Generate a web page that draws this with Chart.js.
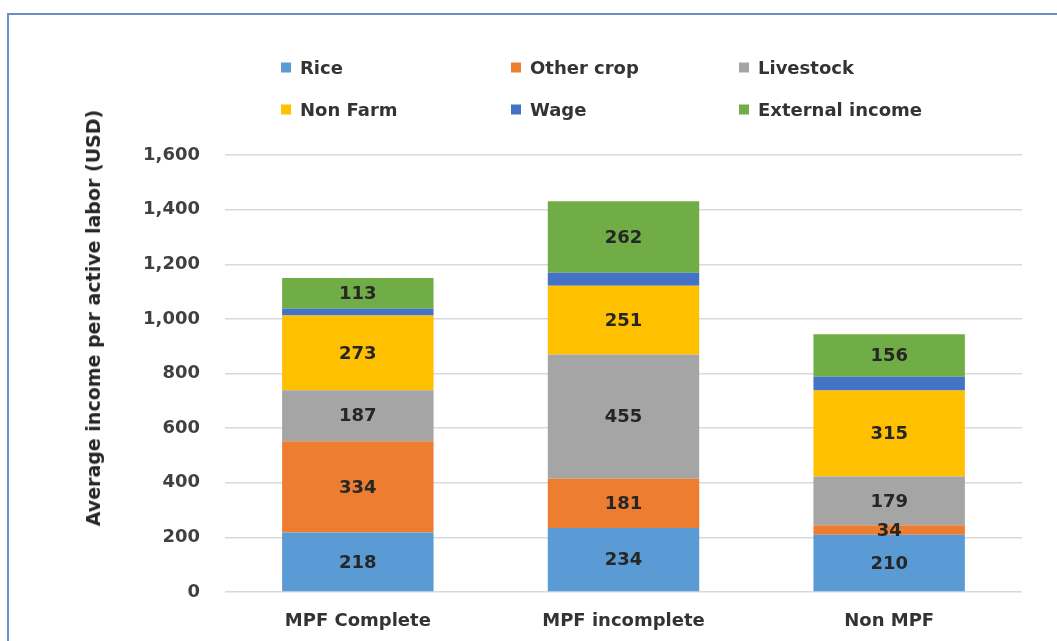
<!DOCTYPE html>
<html>
<head>
<meta charset="utf-8">
<script src="https://cdn.jsdelivr.net/npm/chart.js@4/dist/chart.umd.min.js"></script>
<style>
  html, body { margin: 0; padding: 0; background: #ffffff; }
  #wrap { position: relative; width: 1057px; height: 641px; overflow: hidden; background: #fff; }
  #frame { position: absolute; left: 7px; top: 13px; width: 1060px; height: 640px;
           border-left: 2px solid #6a8fca; border-top: 2px solid #6a8fca; }
  canvas { position: absolute; left: 0; top: 0; }
  #ytitle { position: absolute; left: 93px; top: 318px; transform: translate(-50%, -50%) rotate(-90deg);
            font: bold 19px "DejaVu Sans", sans-serif; color: #262626; white-space: nowrap; }
  .lg { position: absolute; font: bold 18px "DejaVu Sans", sans-serif; color: #333; white-space: nowrap;
        transform: translateY(-50%); }
  .lg span.box { position: absolute; left: -19px; top: 50%; width: 10px; height: 10px; margin-top: -5px; }
</style>
</head>
<body>
<div id="wrap">
  <div id="frame"></div>
  <canvas id="c" width="1057" height="641"></canvas>
  <div id="ytitle">Average income per active labor (USD)</div>
  <div id="legend"></div>
</div>
<script>
const categories = ["MPF Complete", "MPF incomplete", "Non MPF"];
const seriesNames = ["Rice", "Other crop", "Livestock", "Non Farm", "Wage", "External income"];
const rice = [218, 234, 210];
const otherCrop = [334, 181, 34];
const livestock = [187, 455, 179];
const nonFarm = [273, 251, 315];
const wage = [25, 48, 50];
const externalIncome = [113, 262, 156];
const yTicks = [0, 200, 400, 600, 800, 1000, 1200, 1400, 1600];

const colors = ["#5b9bd5", "#ed7d31", "#a5a5a5", "#ffc000", "#4472c4", "#70ad47"];
const values = [rice, otherCrop, livestock, nonFarm, wage, externalIncome];
const showLabel = [true, true, true, true, false, true];

const FONT = '"DejaVu Sans", sans-serif';

const labelPlugin = {
  id: 'segLabels',
  afterDatasetsDraw(chart) {
    const ctx = chart.ctx;
    ctx.save();
    ctx.font = 'bold 18px ' + FONT;
    ctx.fillStyle = '#262626';
    ctx.textAlign = 'center';
    ctx.textBaseline = 'middle';
    chart.data.datasets.forEach((ds, i) => {
      if (!showLabel[i]) return;
      const meta = chart.getDatasetMeta(i);
      meta.data.forEach((el, j) => {
        const y = (el.y + el.base) / 2;
        ctx.fillText(String(ds.data[j]), el.x, y + 1);
      });
    });
    ctx.restore();
  }
};

const chart = new Chart(document.getElementById('c'), {
  type: 'bar',
  data: {
    labels: categories,
    datasets: seriesNames.map((n, i) => ({
      label: n,
      data: values[i],
      backgroundColor: colors[i],
      borderWidth: 0,
      categoryPercentage: 1,
      barPercentage: 0.57
    }))
  },
  options: {
    responsive: false,
    devicePixelRatio: 1,
    animation: false,
    layout: { padding: { top: 155, right: 35, bottom: 0, left: 0 } },
    plugins: { legend: { display: false }, tooltip: { enabled: false } },
    scales: {
      x: {
        stacked: true,
        grid: { display: false, drawTicks: false },
        border: { display: false },
        ticks: { padding: 19, color: '#333', font: { family: FONT, size: 18, weight: 'bold' } },
        afterFit(s) { s.height = 49; }
      },
      y: {
        stacked: true,
        min: 0, max: 1600,
        afterBuildTicks(s) { s.ticks = yTicks.map(v => ({ value: v })); },
        grid: { color: '#d9d9d9', lineWidth: 1.5, drawTicks: false },
        border: { display: false },
        ticks: {
          padding: 25, color: '#404040',
          font: { family: FONT, size: 18, weight: 'bold' },
          callback: v => Number(v).toLocaleString('en-US')
        },
        afterFit(s) { s.width = 225; }
      }
    }
  },
  plugins: [labelPlugin]
});

// HTML legend built from the chart's datasets
const legendPos = [[300, 67], [530, 67], [758, 67], [300, 109], [530, 109], [758, 109]];
const lg = document.getElementById('legend');
chart.data.datasets.forEach((ds, i) => {
  const d = document.createElement('div');
  d.className = 'lg';
  d.style.left = legendPos[i][0] + 'px';
  d.style.top = legendPos[i][1] + 'px';
  const b = document.createElement('span');
  b.className = 'box';
  b.style.background = ds.backgroundColor;
  d.appendChild(b);
  d.appendChild(document.createTextNode(ds.label));
  lg.appendChild(d);
});
</script>
</body>
</html>
